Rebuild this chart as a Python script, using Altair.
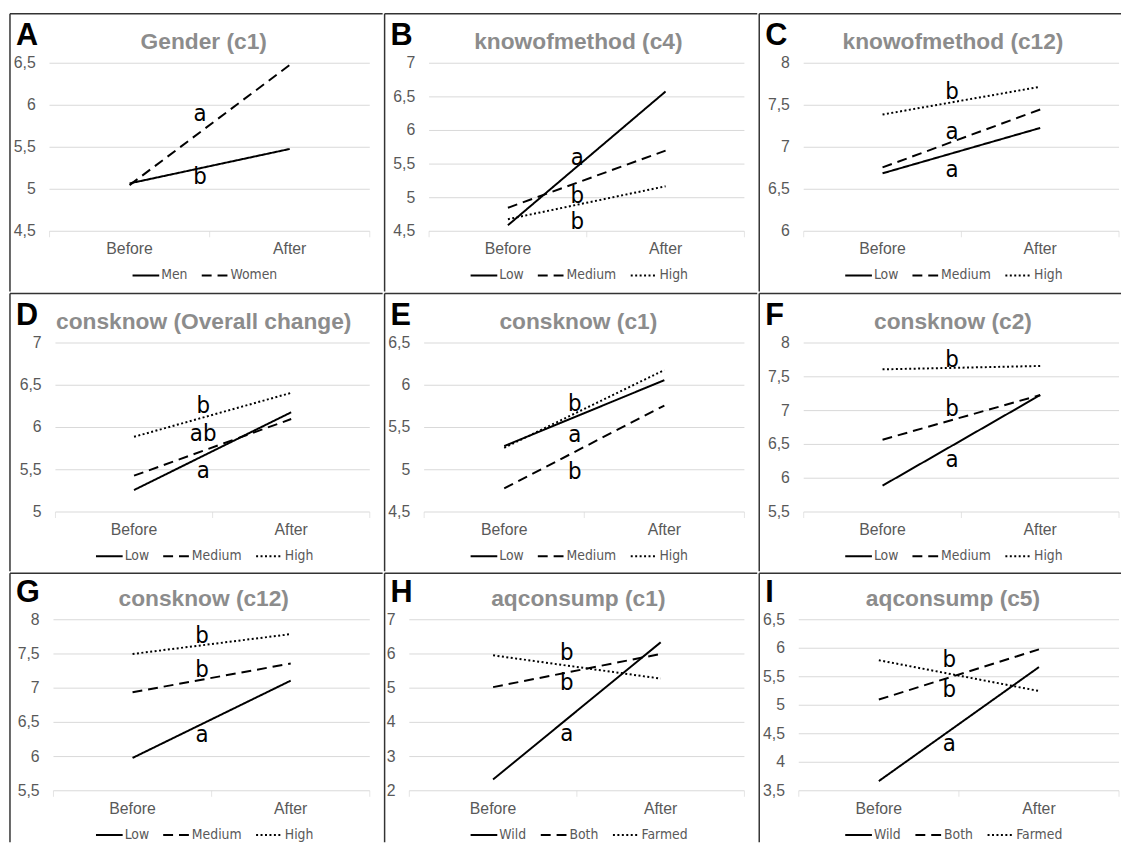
import altair as alt
import pandas as pd

TIMES = ["Before", "After"]

# ---- Panel A
A_TITLE = "Gender (c1)"
A_GROUPS = ["Men", "Women"]
A_BEFORE = [5.07, 5.05]
A_AFTER = [5.48, 6.48]
A_SIG = ["a", "b"]
A_SIG_Y = [5.89, 5.15]
A_TICKS = ["4,5", "5", "5,5", "6", "6,5"]

# ---- Panel B
B_TITLE = "knowofmethod (c4)"
B_GROUPS = ["Low", "Medium", "High"]
B_BEFORE = [4.59, 4.85, 4.68]
B_AFTER = [6.58, 5.70, 5.17]
B_SIG = ["a", "b", "b"]
B_SIG_Y = [5.59, 5.02, 4.63]
B_TICKS = ["4,5", "5", "5,5", "6", "6,5", "7"]

# ---- Panel C
C_TITLE = "knowofmethod (c12)"
C_GROUPS = ["Low", "Medium", "High"]
C_BEFORE = [6.69, 6.76, 7.39]
C_AFTER = [7.23, 7.45, 7.72]
C_SIG = ["b", "a", "a"]
C_SIG_Y = [7.66, 7.18, 6.73]
C_TICKS = ["6", "6,5", "7", "7,5", "8"]

# ---- Panel D
D_TITLE = "consknow (Overall change)"
D_GROUPS = ["Low", "Medium", "High"]
D_BEFORE = [5.26, 5.43, 5.89]
D_AFTER = [6.18, 6.10, 6.41]
D_SIG = ["b", "ab", "a"]
D_SIG_Y = [6.25, 5.92, 5.49]
D_TICKS = ["5", "5,5", "6", "6,5", "7"]

# ---- Panel E
E_TITLE = "consknow (c1)"
E_GROUPS = ["Low", "Medium", "High"]
E_BEFORE = [5.28, 4.78, 5.26]
E_AFTER = [6.06, 5.76, 6.18]
E_SIG = ["b", "a", "b"]
E_SIG_Y = [5.78, 5.41, 4.97]
E_TICKS = ["4,5", "5", "5,5", "6", "6,5"]

# ---- Panel F
F_TITLE = "consknow (c2)"
F_GROUPS = ["Low", "Medium", "High"]
F_BEFORE = [5.89, 6.57, 7.61]
F_AFTER = [7.23, 7.23, 7.66]
F_SIG = ["b", "b", "a"]
F_SIG_Y = [7.74, 7.02, 6.27]
F_TICKS = ["5,5", "6", "6,5", "7", "7,5", "8"]

# ---- Panel G
G_TITLE = "consknow (c12)"
G_GROUPS = ["Low", "Medium", "High"]
G_BEFORE = [5.98, 6.94, 7.50]
G_AFTER = [7.11, 7.36, 7.79]
G_SIG = ["b", "b", "a"]
G_SIG_Y = [7.76, 7.27, 6.32]
G_TICKS = ["5,5", "6", "6,5", "7", "7,5", "8"]

# ---- Panel H
H_TITLE = "aqconsump (c1)"
H_GROUPS = ["Wild", "Both", "Farmed"]
H_BEFORE = [2.33, 5.03, 5.96]
H_AFTER = [6.34, 6.00, 5.28]
H_SIG = ["b", "b", "a"]
H_SIG_Y = [6.04, 5.15, 3.67]
H_TICKS = ["2", "3", "4", "5", "6", "7"]

# ---- Panel I
I_TITLE = "aqconsump (c5)"
I_GROUPS = ["Wild", "Both", "Farmed"]
I_BEFORE = [3.67, 5.10, 5.79]
I_AFTER = [5.67, 5.98, 5.25]
I_SIG = ["b", "b", "a"]
I_SIG_Y = [5.80, 5.26, 4.32]
I_TICKS = ["3,5", "4", "4,5", "5", "5,5", "6", "6,5"]

PANELS = [
    ("A", A_TITLE, A_GROUPS, A_BEFORE, A_AFTER, A_SIG, A_SIG_Y, A_TICKS),
    ("B", B_TITLE, B_GROUPS, B_BEFORE, B_AFTER, B_SIG, B_SIG_Y, B_TICKS),
    ("C", C_TITLE, C_GROUPS, C_BEFORE, C_AFTER, C_SIG, C_SIG_Y, C_TICKS),
    ("D", D_TITLE, D_GROUPS, D_BEFORE, D_AFTER, D_SIG, D_SIG_Y, D_TICKS),
    ("E", E_TITLE, E_GROUPS, E_BEFORE, E_AFTER, E_SIG, E_SIG_Y, E_TICKS),
    ("F", F_TITLE, F_GROUPS, F_BEFORE, F_AFTER, F_SIG, F_SIG_Y, F_TICKS),
    ("G", G_TITLE, G_GROUPS, G_BEFORE, G_AFTER, G_SIG, G_SIG_Y, G_TICKS),
    ("H", H_TITLE, H_GROUPS, H_BEFORE, H_AFTER, H_SIG, H_SIG_Y, H_TICKS),
    ("I", I_TITLE, I_GROUPS, I_BEFORE, I_AFTER, I_SIG, I_SIG_Y, I_TICKS),
]

# ---- styling / layout
FONT = "Liberation Sans, Arial, sans-serif"
NARROW = "Liberation Sans Narrow, Arial Narrow, DejaVu Sans Condensed, sans-serif"
GRID = "#d9d9d9"
AXIS_TXT = "#595959"
TITLE_COL = "#8c8c8c"
DASHES = [[1, 0], [10, 6], [2, 2.5]]

COL_W = [377, 377, 366]
ROW_H = [281, 281, 272]
ROW_T = [50, 50, 47]
ROW_P = [170, 171, 173]
PLOT_R = 364
LEFTS = [40, 45, 45, 46, 40, 45, 44, 25, 40]
SIG_X = 0.94


def panel(idx, letter, title, groups, before, after, sig, sig_y, ticks):
    r, c = divmod(idx, 3)
    W, H, T, P = COL_W[c], ROW_H[r], ROW_T[r], ROW_P[r]
    L = LEFTS[idx]
    tick_vals = [float(t.replace(",", ".")) for t in ticks]
    ymin, ymax = min(tick_vals), max(tick_vals)
    upp = (ymax - ymin) / P
    ydom = [ymin - (H - T - P) * upp, ymax + T * upp]
    xupp = 2.0 / (PLOT_R - L)
    xdom = [-L * xupp, 2 + (W - PLOT_R) * xupp]
    xs = alt.Scale(domain=xdom, nice=False, zero=False)
    ys = alt.Scale(domain=ydom, nice=False, zero=False)

    def X(f):
        return alt.X(f, type="quantitative", scale=xs, axis=None)

    def Y(f):
        return alt.Y(f, type="quantitative", scale=ys, axis=None)

    grid_df = pd.DataFrame({"v": tick_vals, "x0": 0.0, "x1": 2.0})
    grid = alt.Chart(grid_df).mark_rule(color=GRID, strokeWidth=1).encode(
        x=X("x0"), x2="x1", y=Y("v"))

    tick_df = pd.DataFrame({"xt": [0.0, 1.0, 2.0], "v": ymin})
    aticks = alt.Chart(tick_df).mark_tick(
        orient="vertical", size=6, thickness=1, yOffset=3, color=GRID
    ).encode(x=X("xt"), y=Y("v"))

    ylab_df = pd.DataFrame({"v": tick_vals, "lab": ticks, "x": 0.0})
    ylabels = alt.Chart(ylab_df).mark_text(
        align="right", baseline="middle", dx=-14, fontSize=16, font=FONT, color=AXIS_TXT
    ).encode(x=X("x"), y=Y("v"), text="lab:N")

    xlab_df = pd.DataFrame({"xpos": [0.5, 1.5], "lab": TIMES, "v": ymin})
    xlabels = alt.Chart(xlab_df).mark_text(
        align="center", baseline="middle", dy=18, fontSize=16, font=FONT, color=AXIS_TXT
    ).encode(x=X("xpos"), y=Y("v"), text="lab:N")

    rows = []
    for g, b, a in zip(groups, before, after):
        for i, (t, v) in enumerate(zip(TIMES, [b, a])):
            rows.append({"group": g, "time": t, "xpos": i + 0.5, "value": v})
    line_df = pd.DataFrame(rows)
    legend_x = 123 if len(groups) == 2 else 86
    lines = alt.Chart(line_df).mark_line(color="black", strokeWidth=2).encode(
        x=X("xpos"),
        y=Y("value"),
        strokeDash=alt.StrokeDash(
            "group:N",
            scale=alt.Scale(domain=groups, range=DASHES[: len(groups)]),
            legend=alt.Legend(
                orient="none", legendX=legend_x, legendY=T + P + 30,
                direction="horizontal", title=None, symbolType="stroke",
                symbolSize=729, symbolStrokeWidth=2, symbolStrokeColor="black",
                labelFont=NARROW, labelFontSize=14, labelColor=AXIS_TXT,
                labelOffset=1, columnPadding=10, padding=0,
            ),
        ),
    )

    sig_df = pd.DataFrame({"xpos": SIG_X, "v": sig_y, "lab": sig})
    sigs = alt.Chart(sig_df).mark_text(
        align="center", baseline="middle", fontSize=24, font=NARROW, color="black"
    ).encode(x=X("xpos"), y=Y("v"), text="lab:N")

    one = pd.DataFrame({"k": [0]})
    letter_m = alt.Chart(one).mark_text(
        text=letter, align="left", baseline="alphabetic", fontSize=31,
        fontWeight="bold", font=FONT, color="black"
    ).encode(x=alt.value(6), y=alt.value(T - 18))
    title_m = alt.Chart(one).mark_text(
        text=title, align="center", baseline="middle", fontSize=23,
        fontWeight="bold", font=FONT, color=TITLE_COL
    ).encode(x=alt.value(196), y=alt.value(T - 21))

    left_b = alt.Chart(one).mark_rule(color="#333333", strokeWidth=1.5).encode(
        x=alt.value(0), y=alt.value(0), y2=alt.value(H))
    top_b = alt.Chart(one).mark_rule(color="#333333", strokeWidth=1.5).encode(
        x=alt.value(0), x2=alt.value(W), y=alt.value(0))

    return alt.layer(
        grid, aticks, ylabels, xlabels, lines, sigs, letter_m, title_m, left_b, top_b
    ).properties(width=W, height=H)


charts = [panel(i, *p) for i, p in enumerate(PANELS)]
row_charts = []
for r in range(3):
    row_charts.append(
        alt.hconcat(*charts[r * 3:(r + 1) * 3], spacing=0)
        .resolve_scale(x="independent", y="independent", strokeDash="independent")
        .resolve_legend(strokeDash="independent")
    )

chart = (
    alt.vconcat(*row_charts, spacing=0)
    .resolve_scale(x="independent", y="independent", strokeDash="independent")
    .resolve_legend(strokeDash="independent")
    .configure_view(stroke=None)
    .properties(padding={"left": 1, "top": 0, "right": 0, "bottom": 0}, background="white")
)

chart.save("out.html", embed_options={"renderer": "svg", "actions": False})
